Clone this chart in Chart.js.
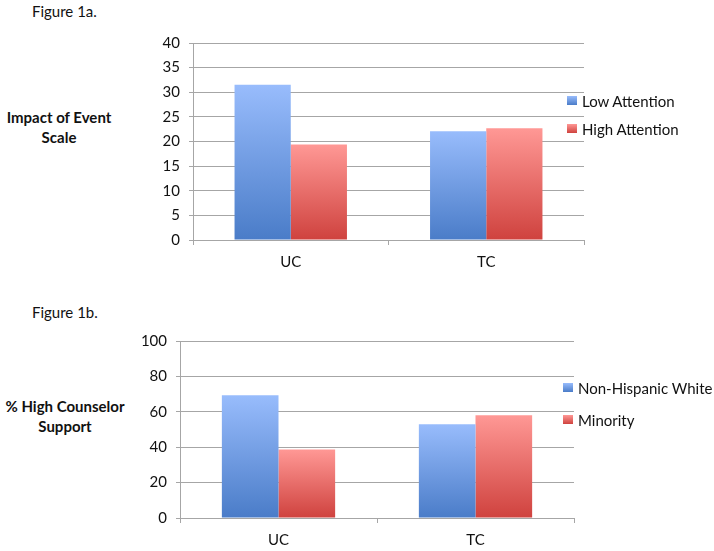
<!DOCTYPE html>
<html>
<head>
<meta charset="utf-8">
<script src="https://cdn.jsdelivr.net/npm/chart.js@4.4.0/dist/chart.umd.min.js"></script>
<style>
  body { margin: 0; background: #fff; font-family: Lato, "Open Sans", sans-serif; color: #111; }
  #page { position: relative; width: 714px; height: 551px; overflow: hidden; }
  .abs { position: absolute; }
  .fig { font-size: 15px; }
  .ytitle { font-weight: bold; font-size: 15px; text-align: center; line-height: 20px; transform: translateX(-50%); white-space: nowrap; }
  .legend div { position: relative; height: 20px; line-height: 20px; font-size: 15px; white-space: nowrap; }
  .legend span.box { position: absolute; left: 0; top: 5px; width: 10px; height: 9px; }
  .legend span.lab { position: absolute; left: 15px; top: 0; }
</style>
</head>
<body>
<div id="page">
  <div class="abs fig" style="left:32px; top:2px;">Figure 1a.</div>
  <div class="abs ytitle" style="left:59px; top:107px;">Impact of Event<br>Scale</div>
  <div class="abs" style="left:0; top:0; width:714px; height:275px;"><canvas id="chart1" width="714" height="275"></canvas></div>
  <div class="abs legend" id="legend1" style="left:567px; top:91px;"></div>

  <div class="abs fig" style="left:32px; top:303px;">Figure 1b.</div>
  <div class="abs ytitle" style="left:65px; top:396px;">% High Counselor<br>Support</div>
  <div class="abs" style="left:0; top:280px; width:714px; height:271px;"><canvas id="chart2" width="714" height="271"></canvas></div>
  <div class="abs legend" id="legend2" style="left:563px; top:378px;"></div>
</div>
<script>
// data
const categories = ['UC', 'TC'];
const lowAttention = [31.5, 22.1];
const highAttention = [19.4, 22.7];
const nonHispanicWhite = [69.4, 52.9];
const minority = [38.7, 58.1];

const blueLight = '#98bcfc', blueDark = '#4a7cc8';
const redLight = '#ff9895', redDark = '#cf423e';
const gridColor = '#a6a6a6';

// gradient per bar, light at top and dark at base
function barGradient(light, dark) {
    return (ctx) => {
        const chart = ctx.chart;
        if (!chart.chartArea || ctx.type !== 'data' || !chart.scales.y) return dark;
        const y = chart.scales.y;
        const top = y.getPixelForValue(ctx.raw);
        const bottom = y.getPixelForValue(0);
        const g = chart.ctx.createLinearGradient(0, top, 0, bottom);
        g.addColorStop(0, light);
        g.addColorStop(1, dark);
        return g;
    };
}

function makeLegend(id, labels, rowGap) {
    const el = document.getElementById(id);
    const cols = [[blueLight, blueDark], [redLight, redDark]];
    labels.forEach((t, i) => {
        const row = document.createElement('div');
        row.style.marginBottom = (i === 0 ? rowGap - 20 : 0) + 'px';
        row.innerHTML = '<span class="box" style="background:linear-gradient(' + cols[i][0] + ',' + cols[i][1] + ')"></span><span class="lab">' + t + '</span>';
        el.appendChild(row);
    });
}

function createBarChart(canvasId, labelsA, dataA, dataB, yMax, yStep, yWidth, xHeight, pad) {
    const tickFont = { family: 'Lato', size: 15 };
    new Chart(document.getElementById(canvasId), {
        type: 'bar',
        data: {
            labels: categories,
            datasets: [
                { label: labelsA[0], data: dataA, backgroundColor: barGradient(blueLight, blueDark), borderWidth: 0 },
                { label: labelsA[1], data: dataB, backgroundColor: barGradient(redLight, redDark), borderWidth: 0 },
            ],
        },
        options: {
            responsive: false,
            animation: false,
            layout: { padding: pad },
            datasets: { bar: { categoryPercentage: 0.575, barPercentage: 1.0 } },
            plugins: { legend: { display: false }, tooltip: { enabled: false } },
            scales: {
                x: {
                    grid: { drawOnChartArea: false, color: gridColor, tickLength: 5 },
                    border: { color: gridColor },
                    ticks: { color: '#111', font: tickFont, padding: 8 },
                    afterFit: (s) => { s.height = xHeight; },
                },
                y: {
                    min: 0, max: yMax,
                    grid: { color: gridColor, tickLength: 4 },
                    border: { color: gridColor },
                    ticks: { stepSize: yStep, color: '#111', font: tickFont, padding: 9 },
                    afterFit: (s) => { s.width = yWidth; },
                },
            },
        },
    });
}

createBarChart('chart1', ['Low Attention', 'High Attention'], lowAttention, highAttention, 40, 5, 193, 35,
    { top: 43, left: 0, right: 130, bottom: 0 });
createBarChart('chart2', ['Non-Hispanic White', 'Minority'], nonHispanicWhite, minority, 100, 20, 180, 33,
    { top: 61, left: 0, right: 140, bottom: 0 });

makeLegend('legend1', ['Low Attention', 'High Attention'], 28);
makeLegend('legend2', ['Non-Hispanic White', 'Minority'], 32);
</script>
</body>
</html>
